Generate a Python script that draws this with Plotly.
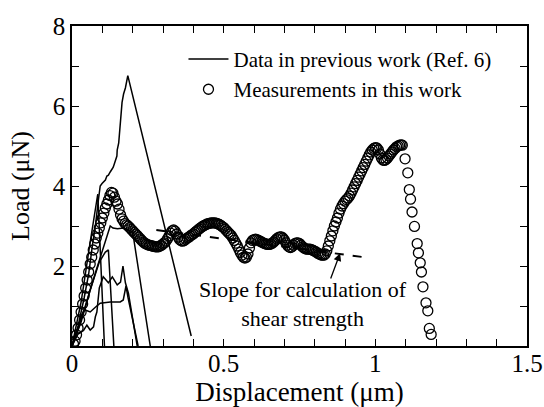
import plotly.graph_objects as go

# ---- Data in previous work (Ref. 6): several load-displacement curves ----
prev_a_x = [0.0, 0.02, 0.04, 0.055, 0.067, 0.077, 0.087, 0.093, 0.099, 0.11, 0.115, 0.12, 0.126, 0.132, 0.136, 0.148, 0.149, 0.154, 0.159, 0.165, 0.17, 0.176, 0.184, 0.393]
prev_a_y = [0.0, 0.5, 1.2, 1.8, 2.5, 3.0, 3.65, 4.0, 4.06, 4.15, 4.25, 4.27, 4.35, 4.41, 4.47, 4.75, 4.9, 5.08, 5.6, 6.09, 6.3, 6.45, 6.76, 0.25]
prev_b_x = [0.0, 0.04, 0.08, 0.11, 0.12, 0.126, 0.135, 0.15, 0.17, 0.19, 0.2, 0.258]
prev_b_y = [0.0, 0.9, 1.9, 2.6, 2.85, 3.0, 2.95, 2.93, 2.95, 2.88, 2.85, 0.0]
prev_c_x = [0.0, 0.02, 0.038, 0.049, 0.06, 0.071, 0.077, 0.082, 0.09, 0.103, 0.12, 0.133, 0.149, 0.16, 0.168, 0.176, 0.186, 0.215]
prev_c_y = [0.0, 0.3, 0.39, 0.52, 0.4, 0.48, 0.73, 0.85, 1.45, 1.73, 1.58, 1.73, 1.53, 1.6, 2.0, 1.58, 1.32, 0.0]
prev_d_x = [0.0, 0.02, 0.03, 0.04, 0.05, 0.06, 0.077, 0.093, 0.126, 0.159, 0.169, 0.178, 0.185, 0.218]
prev_d_y = [0.0, 0.4, 0.75, 0.9, 0.88, 0.85, 0.97, 1.07, 1.1, 1.1, 1.15, 1.5, 1.2, 0.0]
prev_e_x = [0.0, 0.03, 0.06, 0.08, 0.085, 0.107]
prev_e_y = [0.0, 1.1, 2.6, 3.6, 3.8, 0.0]
prev_f_x = [0.0, 0.03, 0.06, 0.09, 0.11, 0.12, 0.138]
prev_f_y = [0.0, 0.6, 1.4, 2.1, 2.35, 2.4, 0.0]

# ---- Measurements in this work ----
meas_x = [0.005, 0.01, 0.015, 0.02, 0.025, 0.03, 0.035, 0.04, 0.045, 0.05, 0.055, 0.06, 0.065, 0.07, 0.075, 0.08,
          0.085, 0.09, 0.095, 0.1, 0.105, 0.11, 0.115, 0.12, 0.125, 0.13, 0.135, 0.14, 0.145, 0.15, 0.155, 0.16,
          0.165, 0.17, 0.175, 0.18, 0.185, 0.19, 0.195, 0.2, 0.205, 0.21, 0.215, 0.22, 0.225, 0.23, 0.235, 0.24,
          0.245, 0.25, 0.255, 0.26, 0.265, 0.27, 0.275, 0.28, 0.285, 0.29, 0.295, 0.3, 0.305, 0.31, 0.315, 0.32,
          0.325, 0.33, 0.335, 0.34, 0.345, 0.35, 0.355, 0.36, 0.365, 0.37, 0.375, 0.38, 0.385, 0.39, 0.395, 0.4,
          0.405, 0.41, 0.415, 0.42, 0.425, 0.43, 0.435, 0.44, 0.445, 0.45, 0.455, 0.46, 0.465, 0.47, 0.475, 0.48,
          0.485, 0.49, 0.495, 0.5, 0.505, 0.51, 0.515, 0.52, 0.525, 0.53, 0.535, 0.54, 0.545, 0.55, 0.555, 0.56,
          0.565, 0.57, 0.575, 0.58, 0.585, 0.59, 0.595, 0.6, 0.605, 0.61, 0.615, 0.62, 0.625, 0.63, 0.635, 0.64,
          0.645, 0.65, 0.655, 0.66, 0.665, 0.67, 0.675, 0.68, 0.685, 0.69, 0.695, 0.7, 0.705, 0.71, 0.715, 0.72,
          0.725, 0.73, 0.735, 0.74, 0.745, 0.75, 0.755, 0.76, 0.765, 0.77, 0.775, 0.78, 0.785, 0.79, 0.795, 0.8,
          0.805, 0.81, 0.815, 0.82, 0.825, 0.83, 0.835, 0.84, 0.845, 0.85, 0.855, 0.86, 0.865, 0.87, 0.875, 0.88,
          0.885, 0.89, 0.895, 0.9, 0.905, 0.91, 0.915, 0.92, 0.925, 0.93, 0.935, 0.94, 0.945, 0.95, 0.955, 0.96,
          0.965, 0.97, 0.975, 0.98, 0.985, 0.99, 0.995, 1.0, 1.005, 1.01, 1.015, 1.02, 1.025, 1.03, 1.035, 1.04,
          1.045, 1.05, 1.055, 1.06, 1.065, 1.07, 1.075, 1.08, 1.085, 1.089,
          1.098, 1.107, 1.112, 1.116, 1.121, 1.129, 1.138, 1.142, 1.148, 1.152, 1.157, 1.167, 1.173, 1.178, 1.184]
meas_y = [0.05, 0.12, 0.28, 0.45, 0.65, 0.85, 1.05, 1.25, 1.45, 1.65, 1.85, 2.05, 2.22, 2.4, 2.55, 2.7,
          2.82, 2.95, 3.08, 3.2, 3.32, 3.45, 3.55, 3.65, 3.76, 3.84, 3.82, 3.72, 3.62, 3.55, 3.42, 3.28,
          3.18, 3.12, 3.06, 3.03, 3.0, 2.96, 2.92, 2.88, 2.84, 2.8, 2.76, 2.72, 2.68, 2.64, 2.6, 2.57,
          2.55, 2.53, 2.52, 2.51, 2.5, 2.49, 2.48, 2.48, 2.48, 2.5, 2.52, 2.55, 2.58, 2.62, 2.68, 2.75,
          2.82, 2.88, 2.9, 2.87, 2.8, 2.72, 2.66, 2.63, 2.62, 2.64, 2.67, 2.7, 2.72, 2.75, 2.78, 2.8,
          2.84, 2.87, 2.9, 2.93, 2.96, 2.99, 3.01, 3.03, 3.05, 3.06, 3.07, 3.08, 3.08, 3.08, 3.07, 3.06,
          3.04, 3.02, 2.99, 2.96, 2.92, 2.88, 2.84, 2.8, 2.76, 2.7, 2.64, 2.57, 2.5, 2.42, 2.34, 2.27,
          2.22, 2.2, 2.22, 2.3, 2.45, 2.58, 2.64, 2.66, 2.67, 2.66, 2.64, 2.62, 2.6, 2.58, 2.56, 2.55,
          2.54, 2.54, 2.55, 2.57, 2.6, 2.64, 2.68, 2.71, 2.73, 2.73, 2.7, 2.65, 2.58, 2.52, 2.48, 2.46,
          2.48, 2.52, 2.56, 2.58, 2.58, 2.56, 2.52, 2.48, 2.45, 2.43, 2.42, 2.42, 2.42, 2.41, 2.39, 2.37,
          2.35, 2.32, 2.3, 2.28, 2.27, 2.27, 2.3, 2.38, 2.5, 2.63, 2.75, 2.88, 3.0, 3.1, 3.2, 3.32,
          3.42, 3.5, 3.56, 3.62, 3.66, 3.7, 3.75, 3.82, 3.9, 3.98, 4.06, 4.14, 4.22, 4.3, 4.38, 4.46,
          4.54, 4.62, 4.7, 4.78, 4.85, 4.9, 4.94, 4.96, 4.95, 4.9, 4.8, 4.7, 4.65, 4.64, 4.66, 4.7,
          4.75, 4.8, 4.85, 4.9, 4.94, 4.98, 5.0, 5.02, 5.03, 5.02,
          4.68, 4.33, 3.91, 3.67, 3.35, 2.99, 2.56, 2.33, 2.08, 1.85, 1.48, 1.08, 0.88, 0.44, 0.29]

# ---- Slope line and annotation ----
slope_x = [0.278, 0.983]
slope_y = [2.9, 2.2]
slope_label = "Slope for calculation of<br>shear strength"
x_ticks = [0, 0.5, 1, 1.5]
y_ticks = [2, 4, 6, 8]

FONT = "'Liberation Serif', 'Times New Roman', Times, 'DejaVu Serif', serif"
prev_curves = [(prev_a_x, prev_a_y), (prev_b_x, prev_b_y), (prev_c_x, prev_c_y),
               (prev_d_x, prev_d_y), (prev_e_x, prev_e_y), (prev_f_x, prev_f_y)]

fig = go.Figure()
for i, (cx, cy) in enumerate(prev_curves):
    fig.add_trace(go.Scatter(
        x=cx, y=cy, mode="lines",
        line=dict(color="black", width=1.5),
        name="Data in previous work (Ref. 6)",
        showlegend=(i == 0), legendgroup="prev"))

fig.add_trace(go.Scatter(
    x=slope_x, y=slope_y, mode="lines",
    line=dict(color="black", width=2, dash="dash"), showlegend=False))

fig.add_trace(go.Scatter(
    x=meas_x, y=meas_y, mode="markers",
    marker=dict(symbol="circle-open", size=10, color="black", line=dict(color="black", width=1.3)),
    name="Measurements in this work"))

fig.add_annotation(x=0.76, y=1.06, text=slope_label, showarrow=False,
                   font=dict(family=FONT, size=22, color="black"))
fig.add_annotation(x=0.884, y=2.32, ax=0.851, ay=1.65, axref="x", ayref="y",
                   text="", showarrow=True, arrowhead=2, arrowsize=1.2, arrowwidth=1.3,
                   arrowcolor="black")

fig.update_layout(
    width=544, height=407,
    margin=dict(l=72, r=17, t=26, b=61),
    paper_bgcolor="white", plot_bgcolor="white",
    font=dict(family=FONT, color="black"),
    legend=dict(x=0.245, y=0.96, xanchor="left", yanchor="top",
                font=dict(family=FONT, size=21, color="black"), bgcolor="rgba(0,0,0,0)",
                itemwidth=40, tracegroupgap=0),
    xaxis=dict(range=[0, 1.5], tickvals=x_ticks, ticks="inside", ticklen=7, tickwidth=1,
               tickcolor="black", showline=True, linecolor="black", linewidth=1.5,
               mirror="allticks", showgrid=False, zeroline=False, automargin=False,
               ticklabelstandoff=-6,
               tickfont=dict(family=FONT, size=25, color="black"),
               minor=dict(dtick=0.1, tick0=0, ticks="inside", ticklen=7, tickcolor="black",
                          tickwidth=1, showgrid=False),
               title=dict(text="Displacement (μm)", font=dict(family=FONT, size=27, color="black"), standoff=9)),
    yaxis=dict(range=[0, 8], tickvals=y_ticks, ticks="inside", ticklen=7, tickwidth=1,
               tickcolor="black", showline=True, linecolor="black", linewidth=1.5,
               mirror="allticks", showgrid=False, zeroline=False, automargin=False,
               tickfont=dict(family=FONT, size=25, color="black"),
               minor=dict(dtick=1, tick0=0, ticks="inside", ticklen=7, tickcolor="black",
                          tickwidth=1, showgrid=False),
               title=dict(text="Load (μN)", font=dict(family=FONT, size=26, color="black"), standoff=16)),
)

fig.write_html("out.html")
